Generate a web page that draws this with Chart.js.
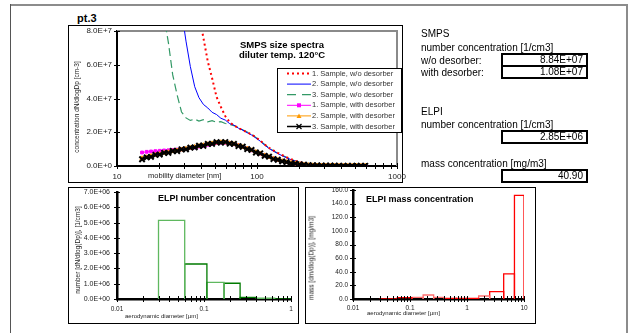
<!DOCTYPE html>
<html>
<head>
<meta charset="utf-8">
<script src="https://cdn.jsdelivr.net/npm/chart.js@4.4.0/dist/chart.umd.min.js"></script>
<style>
  body { margin: 0; width: 631px; height: 333px; overflow: hidden; background: #fff;
         font-family: "Liberation Sans", Arial, sans-serif; position: relative; }
  .abs { position: absolute; white-space: nowrap; }
  .frame { position: absolute; border: 1px solid #000; box-sizing: border-box; }
  canvas { position: absolute; }
  .rot { position: absolute; white-space: nowrap; transform: translate(-50%, -50%) rotate(-90deg);
         font-size: 6.5px; color: #222; }
  .panel { position: absolute; left: 421px; font-size: 10px; line-height: 12px; white-space: nowrap; }
  .val { position: absolute; left: 501px; width: 87px; height: 14px; border: 2px solid #000;
         box-sizing: border-box; text-align: right; padding-right: 3px; font-size: 10px; line-height: 10px; }
</style>
</head>
<body>
<!-- page frame -->
<div class="abs" style="left:10px;top:4px;width:618px;height:2px;background:#8c8c8c"></div>
<div class="abs" style="left:10px;top:4px;width:1px;height:340px;background:#555"></div>
<div class="abs" style="left:626px;top:4px;width:2px;height:340px;background:#8c8c8c"></div>

<div class="frame" style="left:68px;top:25px;width:335px;height:158px"></div>
<div class="frame" style="left:68px;top:187px;width:231px;height:137px"></div>
<div class="frame" style="left:305px;top:187px;width:231px;height:137px"></div>

<canvas id="smps" width="340" height="157" style="left:68px;top:25px"></canvas>
<canvas id="elpiN" width="230" height="136" style="left:68px;top:187px"></canvas>
<canvas id="elpiM" width="230" height="136" style="left:305px;top:187px"></canvas>

<div class="abs" style="left:77px;top:12px;font-size:11px;font-weight:bold">pt.3</div>
<div class="abs" style="left:282px;top:40px;transform:translateX(-50%);text-align:center;font-size:9.5px;line-height:10px;font-weight:bold">SMPS size spectra<br>diluter temp. 120°C</div>
<div class="abs" style="left:148px;top:172px;font-size:7.5px;line-height:8px;color:#222">mobility diameter [nm]</div>
<div class="rot" style="left:76px;top:107px">concentration dN/dlogDp [cm-3]</div>

<div class="abs" style="left:158px;top:193px;font-size:9px;line-height:10px;font-weight:bold">ELPI number concentration</div>
<div class="abs" style="left:125px;top:312px;font-size:6px;line-height:8px;color:#222">aerodynamic diameter [µm]</div>
<div class="rot" style="left:77px;top:250px">number [dN/dlog(Dp)], [1/cm3]</div>

<div class="abs" style="left:366px;top:194px;font-size:9px;line-height:10px;font-weight:bold">ELPI mass concentration</div>
<div class="abs" style="left:367px;top:309px;font-size:6px;line-height:8px;color:#222">aerodynamic diameter [µm]</div>
<div class="rot" style="left:311px;top:258px">mass [dm/dlog(Dp)], [mg/m3]</div>

<div class="panel" style="top:28px">SMPS</div>
<div class="panel" style="top:42px">number concentration [1/cm3]</div>
<div class="panel" style="top:55px">w/o desorber:</div>
<div class="panel" style="top:67px">with desorber:</div>
<div class="val" style="top:53px">8.84E+07</div>
<div class="val" style="top:65px">1.08E+07</div>
<div class="panel" style="top:106px">ELPI</div>
<div class="panel" style="top:119px">number concentration [1/cm3]</div>
<div class="val" style="top:130px">2.85E+06</div>
<div class="panel" style="top:158px">mass concentration [mg/m3]</div>
<div class="val" style="top:169px">40.90</div>

<script>
// SMPS channels (nm)
const smpsDiameter = [15.1, 16.3, 17.5, 18.8, 20.2, 21.7, 23.3, 25.0, 26.9, 28.9, 31.1, 33.4, 35.9, 38.5,
  41.4, 44.5, 47.8, 51.4, 55.2, 59.4, 63.8, 68.5, 73.7, 79.1, 85.1, 91.4, 98.2, 105.5, 113.4, 121.9,
  131.0, 140.7, 151.2, 162.5, 174.7, 187.7, 201.7, 216.7, 232.9, 250.3, 269.0, 289.0, 310.6, 333.8,
  358.7, 385.4, 414.2, 445.1, 478.3, 514.0, 552.3, 593.5];

// dN/dlogDp [cm-3]
const sample1NoDesorber = [null, null, null, null, null, null, null, null, null, null, null, null, null,
  90e6, 76e6, 62e6, 52e6, 41e6, 35e6, 29.5e6, 26e6, 24e6, 22.5e6, 21.2e6, 20e6, 18.6e6, 17e6, 15e6,
  12.8e6, 10.8e6, 9.2e6, 7.8e6, 6.5e6, 5.2e6, 4.1e6, 3.1e6, 2.3e6, 1.6e6, 1.1e6, 0.75e6, 0.5e6,
  0.36e6, 0.27e6, 0.2e6, 0.17e6, 0.15e6, 0.13e6, 0.12e6, 0.11e6, 0.1e6, 0.1e6, 0.09e6];
const sample2NoDesorber = [null, null, null, null, null, null, null, null, null,
  92e6, 74e6, 59e6, 47e6, 40.5e6, 36.5e6, 34.4e6, 31.8e6, 30.5e6, 28.3e6, 27.2e6, 25.1e6, 24.2e6,
  22.4e6, 21.3e6, 19.7e6, 18.4e6, 16.6e6, 14.7e6, 12.4e6, 10.4e6, 8.8e6, 7.4e6, 6.1e6, 4.9e6, 3.8e6,
  2.9e6, 2.1e6, 1.5e6, 1.0e6, 0.7e6, 0.48e6, 0.34e6, 0.25e6, 0.2e6, 0.17e6, 0.15e6, 0.13e6, 0.12e6,
  0.11e6, 0.1e6, 0.09e6, 0.09e6];
const sample3NoDesorber = [null, null, null, null,
  105e6, 88e6, 73e6, 54e6, 42e6, 32e6, 28.5e6, 27e6, 27.8e6, 26.6e6, 27.4e6, 26.2e6, 26.9e6, 25.9e6,
  26.3e6, 25.2e6, 24.6e6, 23.9e6, 22.8e6, 21.4e6, 20.1e6, 18.7e6, 16.9e6, 14.9e6, 12.7e6, 10.7e6,
  9.0e6, 7.6e6, 6.3e6, 5.1e6, 4.0e6, 3.0e6, 2.2e6, 1.5e6, 1.05e6, 0.72e6, 0.5e6, 0.36e6, 0.26e6,
  0.2e6, 0.17e6, 0.15e6, 0.14e6, 0.12e6, 0.11e6, 0.1e6, 0.1e6, 0.09e6];
const sample1WithDesorber = [8.0e6, 8.4e6, 8.6e6, 8.8e6, 9.0e6, 9.2e6, 9.3e6, 9.5e6, 9.7e6, 9.9e6,
  10.2e6, 10.6e6, 11.0e6, 11.5e6, 12.0e6, 12.6e6, 13.1e6, 13.6e6, 13.9e6, 13.8e6, 13.5e6, 12.9e6,
  12.2e6, 11.3e6, 10.4e6, 9.3e6, 8.3e6, 7.3e6, 6.3e6, 5.3e6, 4.4e6, 3.6e6, 2.9e6, 2.3e6, 1.8e6,
  1.4e6, 1.0e6, 0.75e6, 0.55e6, 0.42e6, 0.33e6, 0.26e6, 0.21e6, 0.18e6, 0.16e6, 0.14e6, 0.13e6,
  0.12e6, 0.11e6, 0.1e6, 0.1e6, 0.09e6];
const sample2WithDesorber = [4.6e6, 5.2e6, 5.9e6, 6.5e6, 7.1e6, 7.7e6, 8.2e6, 8.7e6, 9.2e6, 9.7e6,
  10.2e6, 10.7e6, 11.3e6, 11.8e6, 12.3e6, 12.9e6, 13.4e6, 13.8e6, 14.1e6, 13.9e6, 13.5e6, 12.9e6,
  12.1e6, 11.2e6, 10.3e6, 9.3e6, 8.3e6, 7.3e6, 6.3e6, 5.3e6, 4.4e6, 3.6e6, 2.9e6, 2.3e6, 1.8e6,
  1.35e6, 1.0e6, 0.72e6, 0.52e6, 0.4e6, 0.31e6, 0.25e6, 0.21e6, 0.18e6, 0.15e6, 0.14e6, 0.12e6,
  0.11e6, 0.1e6, 0.1e6, 0.09e6, 0.09e6];
const sample3WithDesorber = [4.0e6, 5.1e6, 5.4e6, 6.6e6, 6.8e6, 7.8e6, 7.8e6, 8.9e6, 8.9e6, 9.9e6,
  9.9e6, 10.9e6, 11.0e6, 12.0e6, 12.0e6, 13.1e6, 13.1e6, 14.1e6, 13.8e6, 14.2e6, 13.2e6, 13.1e6,
  11.8e6, 11.4e6, 10.0e6, 9.5e6, 8.0e6, 7.5e6, 6.0e6, 5.5e6, 4.1e6, 3.7e6, 2.7e6, 2.3e6, 1.6e6,
  1.4e6, 0.9e6, 0.75e6, 0.5e6, 0.4e6, 0.3e6, 0.25e6, 0.2e6, 0.17e6, 0.15e6, 0.13e6, 0.12e6,
  0.11e6, 0.1e6, 0.1e6, 0.09e6, 0.09e6];

// ELPI stages (µm)
const elpiStageEdges = [0.03, 0.06, 0.108, 0.17, 0.26, 0.40, 0.65, 1.0, 1.6, 2.5, 4.4, 6.8, 10];
const elpiNumber = [5.15e6, 2.29e6, 1.09e6, 1.03e6, 0.11e6, 0.05e6, 0.01e6, 0, 0, 0, 0, 0];
const elpiMass = [0.3, 1.9, 2.5, 5.9, 2.5, 1.0, 0.9, 1.0, 4.4, 10.7, 36.8, 152];

const smpsXLabels = [10, 100, 1000];
const numberXLabels = [0.01, 0.1, 1];
const massXLabels = [0.01, 0.1, 1, 10];

const numberColors = ['#5fb85f', '#007a00', '#5fb85f', '#007a00', '#007a00', '#5fb85f',
  '#007a00', '#007a00', '#007a00', '#007a00', '#007a00', '#007a00'];
const massColors = ['#ff0000', '#ff0000', '#ff7070', '#ff7070', '#ff7070', '#ff0000',
  '#ff0000', '#ff0000', '#ff7070', '#ff0000', '#ff0000', '#ff0000'];

Chart.defaults.font.family = '"Liberation Sans", Arial, sans-serif';
Chart.defaults.color = '#222';

function points(ys) {
  return smpsDiameter.map((d, i) => ({x: d, y: ys[i]}));
}

function sciLabel(digits) {
  return v => {
    if (v === 0) return '0.0E+' + '0'.padStart(digits, '0');
    const e = Math.floor(Math.log10(v) + 1e-9);
    return (v / Math.pow(10, e)).toFixed(1) + 'E+' + String(e).padStart(digits, '0');
  };
}

// ticks at every 1..9 multiple between the labelled decades
function logTicks(labels) {
  const out = [];
  for (let i = 0; i < labels.length - 1; i++)
    for (let m = 1; m < 10; m++) out.push(+(labels[i] * m).toPrecision(3));
  out.push(labels[labels.length - 1]);
  return out;
}

function axisX(labels, fontSize, pad, height, bw) {
  return {
    type: 'logarithmic', min: labels[0], max: labels[labels.length - 1],
    afterBuildTicks: s => { s.ticks = logTicks(labels).map(v => ({value: v})); },
    afterFit: s => { s.height = height; s.paddingLeft = 0; s.paddingRight = 0; },
    grid: {display: false, drawTicks: false},
    border: {color: '#000', width: bw},
    ticks: {
      autoSkip: false, maxRotation: 0, padding: pad, font: {size: fontSize},
      callback: v => labels.some(l => Math.abs(l - v) < l * 1e-6) ? String(v) : ''
    }
  };
}

function axisY(max, step, fmt, fontSize, pad, width, bw) {
  return {
    min: 0, max: max,
    afterFit: s => { s.width = width; s.paddingTop = 0; s.paddingBottom = 0; },
    grid: {display: false, drawTicks: false},
    border: {color: '#000', width: bw},
    ticks: {stepSize: step, padding: pad, font: {size: fontSize}, callback: fmt}
  };
}

// small tick marks crossing the axes, like the spreadsheet chart
const crossTicks = {
  id: 'crossTicks',
  afterDraw(chart) {
    const {ctx, chartArea: a} = chart;
    const x = chart.scales.x, y = chart.scales.y;
    ctx.save();
    ctx.strokeStyle = '#000';
    ctx.lineWidth = 1;
    ctx.beginPath();
    x.ticks.forEach(t => {
      const px = Math.round(x.getPixelForValue(t.value)) + 0.5;
      ctx.moveTo(px, a.bottom - 3); ctx.lineTo(px, a.bottom + 3);
    });
    y.ticks.forEach(t => {
      const py = Math.round(y.getPixelForValue(t.value)) + 0.5;
      ctx.moveTo(a.left - 3, py); ctx.lineTo(a.left + 3, py);
    });
    ctx.stroke();
    ctx.restore();
  }
};

const plotBorder = {
  id: 'plotBorder',
  beforeDatasetsDraw(chart) {
    const {ctx, chartArea: a} = chart;
    ctx.save();
    ctx.strokeStyle = '#8a8a8a';
    ctx.lineWidth = 2;
    ctx.beginPath();
    ctx.moveTo(a.left, a.top); ctx.lineTo(a.right, a.top); ctx.lineTo(a.right, a.bottom);
    ctx.stroke();
    ctx.restore();
  }
};

function drawMarker(ctx, style, x, y, r) {
  ctx.setLineDash([]);
  if (style === 'rect') {
    ctx.fillRect(x - r, y - r, 2 * r, 2 * r);
  } else if (style === 'triangle') {
    ctx.beginPath();
    ctx.moveTo(x, y - r); ctx.lineTo(x + r, y + r * 0.8); ctx.lineTo(x - r, y + r * 0.8);
    ctx.closePath(); ctx.fill();
  } else if (style === 'crossRot') {
    ctx.beginPath();
    ctx.moveTo(x - 2.5, y - 2.5); ctx.lineTo(x + 2.5, y + 2.5);
    ctx.moveTo(x + 2.5, y - 2.5); ctx.lineTo(x - 2.5, y + 2.5);
    ctx.lineWidth = 1.3; ctx.stroke();
  }
}

const boxLegend = {
  id: 'boxLegend',
  afterDraw(chart) {
    const ctx = chart.ctx;
    const bx = 209, by = 43, bw = 125, bh = 65;
    ctx.save();
    ctx.fillStyle = '#fff';
    ctx.fillRect(bx, by, bw, bh);
    ctx.strokeStyle = '#000';
    ctx.lineWidth = 1;
    ctx.strokeRect(bx + 0.5, by + 0.5, bw - 1, bh - 1);
    ctx.font = '7.5px "Liberation Sans", Arial, sans-serif';
    ctx.textBaseline = 'middle';
    chart.data.datasets.forEach((ds, i) => {
      const y = by + 5.5 + i * 10.6;
      ctx.strokeStyle = ds.borderColor;
      ctx.fillStyle = ds.borderColor;
      ctx.lineWidth = ds.borderWidth;
      ctx.setLineDash(ds.legendDash || ds.borderDash || []);
      ctx.beginPath();
      ctx.moveTo(bx + 10, y); ctx.lineTo(bx + 34, y);
      ctx.stroke();
      if (ds.pointRadius) drawMarker(ctx, ds.pointStyle, bx + 22, y, Math.min(ds.pointRadius, 2.5));
      ctx.fillStyle = '#333';
      ctx.fillText(ds.label, bx + 35, y);
    });
    ctx.restore();
  }
};

new Chart(document.getElementById('smps'), {
  type: 'line',
  data: {
    datasets: [
      {label: '1. Sample, w/o desorber', data: points(sample1NoDesorber), borderColor: '#ff0000',
       borderWidth: 2, borderDash: [2, 3], pointRadius: 0, order: 3},
      {label: '2. Sample, w/o desorber', data: points(sample2NoDesorber), borderColor: '#0000ff',
       borderWidth: 1, pointRadius: 0, order: 4},
      {label: '3. Sample, w/o desorber', data: points(sample3NoDesorber), borderColor: '#339966',
       borderWidth: 1.2, borderDash: [8, 4], legendDash: [9, 6], pointRadius: 0, order: 5},
      {label: '1. Sample, with desorber', data: points(sample1WithDesorber), borderColor: '#ff00ff',
       backgroundColor: '#ff00ff', borderWidth: 1, pointStyle: 'rect', pointRadius: 2, order: 2},
      {label: '2. Sample, with desorber', data: points(sample2WithDesorber), borderColor: '#ff9900',
       backgroundColor: '#ff9900', borderWidth: 1, pointStyle: 'triangle', pointRadius: 2.5, order: 1},
      {label: '3. Sample, with desorber', data: points(sample3WithDesorber), borderColor: '#000',
       backgroundColor: '#000', borderWidth: 1.5, pointStyle: 'crossRot', pointRadius: 3.8,
       pointBorderWidth: 2, order: 0}
    ]
  },
  options: {
    responsive: false, animation: false, events: [], devicePixelRatio: 1,
    layout: {padding: {left: 0, right: 11, top: 6, bottom: 0}},
    scales: {
      x: axisX(smpsXLabels, 8, 6, 16, 2),
      y: axisY(8e7, 2e7, sciLabel(1), 8, 5, 49, 2)
    },
    plugins: {legend: {display: false}, tooltip: {enabled: false}}
  },
  plugins: [plotBorder, crossTicks, boxLegend]
});

function histogram(values, colors) {
  return values.map((h, i) => ({
    data: [{x: elpiStageEdges[i], y: 0}, {x: elpiStageEdges[i], y: h},
           {x: elpiStageEdges[i + 1], y: h}, {x: elpiStageEdges[i + 1], y: 0}],
    borderColor: colors[i], borderWidth: 1.3, pointRadius: 0, fill: false
  }));
}

new Chart(document.getElementById('elpiN'), {
  type: 'line',
  data: {datasets: histogram(elpiNumber, numberColors)},
  options: {
    responsive: false, animation: false, events: [], devicePixelRatio: 1,
    layout: {padding: {left: 0, right: 7, top: 5, bottom: 0}},
    scales: {
      x: axisX(numberXLabels, 6.5, 6, 24, 2.5),
      y: axisY(7e6, 1e6, sciLabel(2), 7, 7, 49, 2.5)
    },
    plugins: {legend: {display: false}, tooltip: {enabled: false}}
  },
  plugins: [crossTicks]
});

new Chart(document.getElementById('elpiM'), {
  type: 'line',
  data: {datasets: histogram(elpiMass, massColors)},
  options: {
    responsive: false, animation: false, events: [], devicePixelRatio: 1,
    layout: {padding: {left: 0, right: 11, top: 3, bottom: 0}},
    scales: {
      x: axisX(massXLabels, 6.5, 5, 24, 2.5),
      y: axisY(160, 20, v => v.toFixed(1), 6.5, 5, 48, 2.5)
    },
    plugins: {legend: {display: false}, tooltip: {enabled: false}}
  },
  plugins: [crossTicks]
});
</script>
</body>
</html>
